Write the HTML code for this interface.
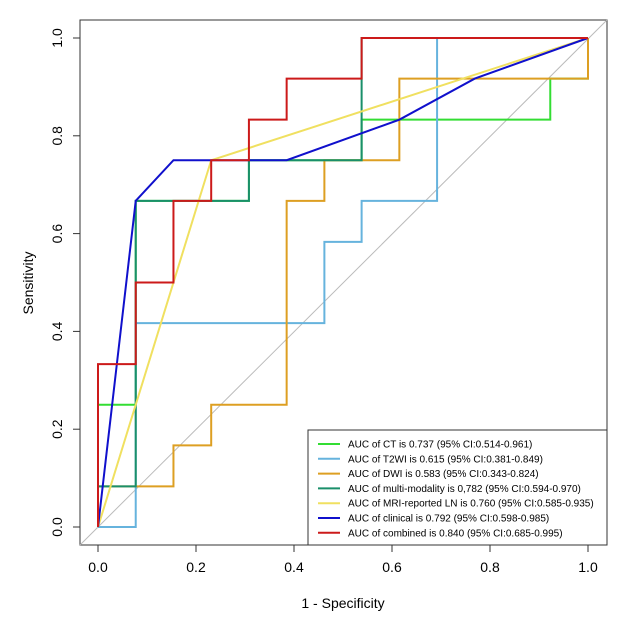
<!DOCTYPE html>
<html><head><meta charset="utf-8"><style>
body{margin:0;background:#fff;}
svg text{font-family:"Liberation Sans",Arial,sans-serif;}
</style></head><body>
<svg width="643" height="633" viewBox="0 0 643 633" xmlns="http://www.w3.org/2000/svg">
<rect x="80" y="20" width="527" height="525" fill="#fff" stroke="#333" stroke-width="1"/>
<line x1="80" y1="545" x2="607" y2="20" stroke="#bbb" stroke-width="1"/>
<g id="curves"></g>
<g id="axes"></g>
<text x="343" y="608" font-size="14" text-anchor="middle">1 - Specificity</text>
<text x="33" y="283" font-size="14" text-anchor="middle" transform="rotate(-90 33 283)">Sensitivity</text>
<g>
<rect x="308" y="430" width="299" height="115" fill="#fff" stroke="#333" stroke-width="1"/>
<g id="legend"></g>
</g>
</svg>
<script>
const seriesNames=["AUC of CT  is 0.737 (95% CI:0.514-0.961)","AUC of T2WI is 0.615 (95% CI:0.381-0.849)","AUC of DWI  is 0.583 (95% CI:0.343-0.824)","AUC of multi-modality  is 0,782 (95% CI:0.594-0.970)","AUC of MRI-reported LN is 0.760 (95% CI:0.585-0.935)","AUC of clinical is 0.792 (95% CI:0.598-0.985)","AUC of combined is 0.840 (95% CI:0.685-0.995)"];
const seriesColors=["#33dd33","#66b3dd","#dd9f22","#1a8f6a","#f0e060","#1010cc","#cc1a1a"];
const ctX=[0,0,0.077,0.077,0.308,0.308,0.538,0.538,0.923,0.923,1,1];
const ctY=[0,0.25,0.25,0.667,0.667,0.75,0.75,0.833,0.833,0.917,0.917,1];
const t2X=[0,0.077,0.077,0.462,0.462,0.538,0.538,0.692,0.692,1];
const t2Y=[0,0,0.417,0.417,0.583,0.583,0.667,0.667,1,1];
const dwiX=[0,0,0.154,0.154,0.231,0.231,0.385,0.385,0.462,0.462,0.615,0.615,1,1];
const dwiY=[0,0.083,0.083,0.167,0.167,0.25,0.25,0.667,0.667,0.75,0.75,0.917,0.917,1];
const mmX=[0,0,0.077,0.077,0.308,0.308,0.538,0.538,1];
const mmY=[0,0.083,0.083,0.667,0.667,0.75,0.75,1,1];
const mriX=[0,0.231,1];
const mriY=[0,0.75,1];
const clinX=[0,0.077,0.154,0.385,0.615,0.769,1];
const clinY=[0,0.667,0.75,0.75,0.833,0.917,1];
const combX=[0,0,0.077,0.077,0.154,0.154,0.231,0.231,0.308,0.308,0.385,0.385,0.538,0.538,1];
const combY=[0,0.333,0.333,0.5,0.5,0.667,0.667,0.75,0.75,0.833,0.833,0.917,0.917,1,1];
const xTicks=[0,0.2,0.4,0.6,0.8,1.0];
const yTicks=[0,0.2,0.4,0.6,0.8,1.0];
const ns="http://www.w3.org/2000/svg";
function sx(v){return 98+v*490;}
function sy(v){return 527-v*489;}
const allX=[ctX,t2X,dwiX,mmX,mriX,clinX,combX];
const allY=[ctY,t2Y,dwiY,mmY,mriY,clinY,combY];
const curveNames=["curve-ct","curve-t2wi","curve-dwi","curve-multi-modality","curve-mri-ln","curve-clinical","curve-combined"];
const cg=document.getElementById('curves');
for(let i=0;i<7;i++){
  const p=document.createElementNS(ns,'polyline');
  p.setAttribute('points',allX[i].map((x,j)=>sx(x)+','+sy(allY[i][j])).join(' '));
  p.setAttribute('fill','none');p.setAttribute('stroke',seriesColors[i]);p.setAttribute('stroke-width','2');
  
  
  cg.appendChild(p);
}
const ag=document.getElementById('axes');
xTicks.forEach(t=>{
  const l=document.createElementNS(ns,'line');
  l.setAttribute('x1',sx(t));l.setAttribute('x2',sx(t));l.setAttribute('y1',545);l.setAttribute('y2',552);l.setAttribute('stroke','#333');
  
  
  ag.appendChild(l);
  const tx=document.createElementNS(ns,'text');
  tx.setAttribute('x',sx(t));tx.setAttribute('y',572);tx.setAttribute('font-size','14');tx.setAttribute('text-anchor','middle');
  tx.textContent=t.toFixed(1);
  
  
  ag.appendChild(tx);
});
yTicks.forEach(t=>{
  const l=document.createElementNS(ns,'line');
  l.setAttribute('y1',sy(t));l.setAttribute('y2',sy(t));l.setAttribute('x1',73);l.setAttribute('x2',80);l.setAttribute('stroke','#333');
  
  
  ag.appendChild(l);
  const tx=document.createElementNS(ns,'text');
  tx.setAttribute('x',62);tx.setAttribute('y',sy(t));tx.setAttribute('font-size','14');tx.setAttribute('text-anchor','middle');
  tx.setAttribute('transform','rotate(-90 62 '+sy(t)+')');
  tx.textContent=t.toFixed(1);
  
  
  ag.appendChild(tx);
});
const lg=document.getElementById('legend');
for(let i=0;i<7;i++){
  const y=444+i*14.8;
  const l=document.createElementNS(ns,'line');
  l.setAttribute('x1',318);l.setAttribute('x2',340);l.setAttribute('y1',y);l.setAttribute('y2',y);
  l.setAttribute('stroke',seriesColors[i]);l.setAttribute('stroke-width','2');
  
  
  lg.appendChild(l);
  const tx=document.createElementNS(ns,'text');
  tx.setAttribute('x',348);tx.setAttribute('y',y+3.5);tx.setAttribute('font-size','10');
  tx.textContent=seriesNames[i];
  
  
  lg.appendChild(tx);
}
</script>
</body></html>
